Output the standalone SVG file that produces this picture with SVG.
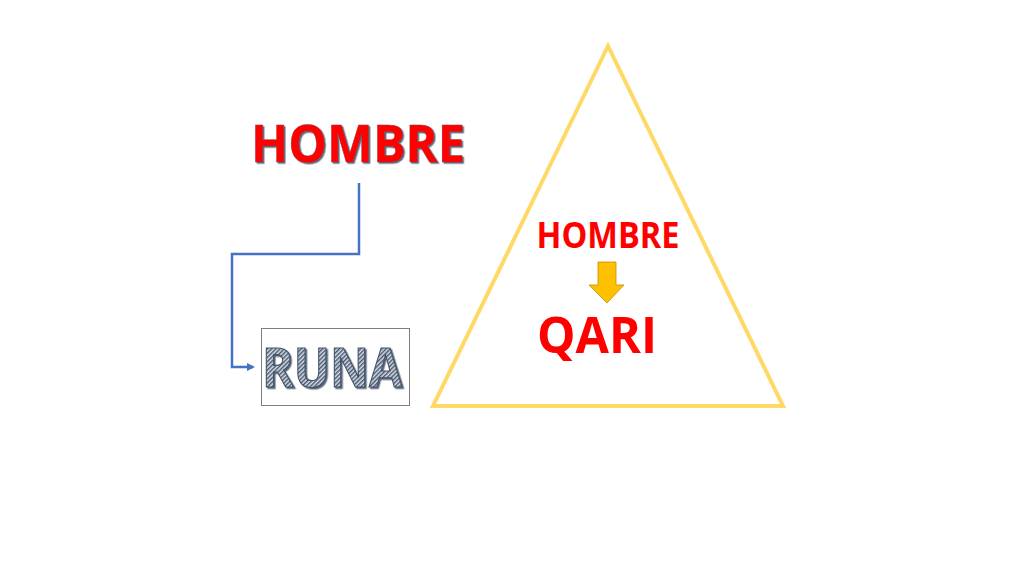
<svg xmlns="http://www.w3.org/2000/svg" width="1024" height="576" viewBox="0 0 1024 576">
  <style>
    .t { font-family: "Open Sans", "Noto Sans", "Liberation Sans", sans-serif; font-weight: bold; }
    .red { fill: #FF0000; }
  </style>
  <defs>
    <pattern id="stripes" patternUnits="userSpaceOnUse" width="3" height="3" patternTransform="rotate(45)">
      <rect width="3" height="3" fill="#D6DCE5"/>
      <rect width="1.4" height="3" fill="#44546A"/>
    </pattern>
    <filter id="shadow" x="-10%" y="-10%" width="120%" height="130%">
      <feDropShadow dx="1.5" dy="1.5" stdDeviation="0.6" flood-color="#44546A" flood-opacity="0.9"/>
    </filter>
    <marker id="arr" markerWidth="8" markerHeight="8" refX="6" refY="4" orient="auto" markerUnits="userSpaceOnUse">
      <path d="M0,0 L8,4 L0,8 Z" fill="#4472C4"/>
    </marker>
  </defs>
  <rect width="1024" height="576" fill="#FFFFFF"/>

  <g id="hombre-top">
    <text class="t red" x="358" y="162" font-size="52" text-anchor="middle" textLength="214" lengthAdjust="spacingAndGlyphs" stroke="#7F3F4F" stroke-width="0.4" filter="url(#shadow)">HOMBRE</text>
  </g>

  <g id="connectors">
    <path d="M359,183 V254 H232 V367 H253" fill="none" stroke="#4472C4" stroke-width="2.5" marker-end="url(#arr)"/>
  </g>

  <g id="runa">
    <rect x="261.5" y="328.5" width="148" height="77" fill="none" stroke="#7F7F7F" stroke-width="1"/>
    <text class="t" x="332" y="387" font-size="54" text-anchor="middle" textLength="140" lengthAdjust="spacingAndGlyphs" fill="url(#stripes)" stroke="#44546A" stroke-width="1.2" filter="url(#shadow)">RUNA</text>
  </g>

  <g id="triangle">
    <polygon points="608,46 433,406 783,406" fill="none" stroke="#FFD966" stroke-width="4" stroke-linejoin="miter"/>
  </g>

  <g id="hombre-inner">
    <text class="t red" x="608" y="248" font-size="36" text-anchor="middle" textLength="143" lengthAdjust="spacingAndGlyphs">HOMBRE</text>
  </g>

  <g id="down-arrow">
    <polygon points="598,262 616,262 616,285 624,285 607,303 589,285 598,285" fill="#FFC000" stroke="#BF9000" stroke-width="0.8"/>
  </g>

  <g id="qari">
    <text class="t red" x="597" y="353" font-size="51" text-anchor="middle" textLength="120" lengthAdjust="spacingAndGlyphs">QARI</text>
  </g>
</svg>
